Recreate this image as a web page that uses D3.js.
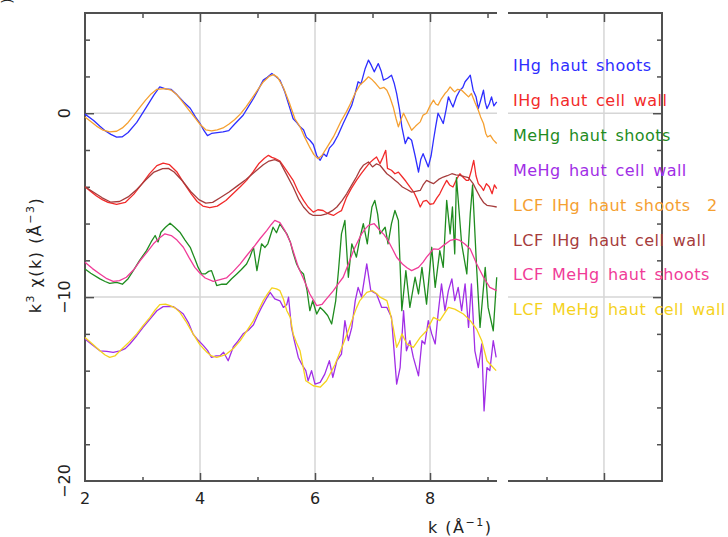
<!DOCTYPE html>
<html>
<head>
<meta charset="utf-8">
<script src="https://cdn.jsdelivr.net/npm/d3@7"></script>
<style>
body { margin: 0; background: #fff; }
svg { display: block; }
text { font-family: "DejaVu Sans", sans-serif; }
</style>
</head>
<body>
<svg width="728" height="537"></svg>
<script>
// k (A^-1), k^3 chi(k), one array per spectrum
var ihgShoots = [[2.00,-0.05],[2.15,-0.4],[2.26,-0.71],[2.35,-0.95],[2.45,-1.15],[2.55,-1.3],[2.65,-1.28],[2.75,-1.05],[2.9,-0.5],[3.07,0.34],[3.2,1.0],[3.3,1.43],[3.4,1.32],[3.5,1.29],[3.6,1.0],[3.72,0.6],[3.83,0.27],[3.92,-0.2],[4.0,-0.55],[4.07,-0.95],[4.13,-1.22],[4.2,-1.1],[4.3,-1.05],[4.4,-1.02],[4.5,-0.95],[4.6,-0.6],[4.75,-0.11],[4.85,0.4],[4.93,0.8],[5.0,1.2],[5.1,1.8],[5.17,1.95],[5.25,2.16],[5.32,2.0],[5.39,1.8],[5.47,1.2],[5.55,0.4],[5.62,-0.3],[5.68,-0.5],[5.74,-0.74],[5.8,-0.9],[5.85,-1.3],[5.91,-1.47],[5.97,-1.7],[6.03,-2.3],[6.09,-2.56],[6.15,-2.2],[6.2,-2.35],[6.25,-1.9],[6.32,-1.65],[6.4,-1.2],[6.49,-0.56],[6.56,-0.1],[6.64,0.44],[6.7,1.1],[6.75,1.71],[6.8,1.6],[6.87,2.4],[6.93,2.89],[6.98,2.6],[7.03,2.25],[7.1,2.7],[7.15,2.3],[7.19,1.8],[7.26,1.9],[7.33,2.07],[7.38,1.6],[7.42,1.07],[7.47,0.2],[7.51,-0.74],[7.57,-1.65],[7.62,-1.3],[7.68,-1.47],[7.74,-2.3],[7.8,-3.2],[7.84,-2.5],[7.88,-2.2],[7.93,-2.6],[7.97,-2.92],[8.02,-2.3],[8.06,-1.47],[8.1,-0.7],[8.14,0.0],[8.19,-0.3],[8.23,-0.56],[8.28,0.2],[8.32,0.89],[8.36,0.6],[8.4,0.34],[8.46,0.9],[8.52,1.25],[8.57,1.4],[8.61,1.71],[8.66,1.9],[8.7,2.07],[8.75,1.25],[8.8,0.9],[8.84,0.25],[8.89,0.8],[8.93,1.25],[8.96,0.6],[8.99,0.25],[9.03,0.5],[9.07,0.89],[9.11,0.4],[9.16,0.62]];

var ihgCellWall = [[2.0,-4.0],[2.1,-4.25],[2.2,-4.5],[2.3,-4.7],[2.4,-4.85],[2.55,-4.96],[2.7,-4.85],[2.85,-4.4],[3.0,-3.8],[3.12,-3.3],[3.25,-2.85],[3.36,-2.71],[3.47,-2.8],[3.6,-3.2],[3.72,-3.8],[3.85,-4.4],[3.95,-4.8],[4.05,-5.05],[4.17,-5.14],[4.3,-5.05],[4.45,-4.75],[4.6,-4.3],[4.7,-4.0],[4.81,-3.65],[4.92,-3.2],[5.02,-2.75],[5.12,-2.45],[5.19,-2.29],[5.25,-2.4],[5.3,-2.45],[5.39,-2.6],[5.5,-3.1],[5.62,-3.65],[5.7,-4.2],[5.8,-4.74],[5.88,-5.1],[5.97,-5.38],[6.05,-5.25],[6.14,-5.29],[6.22,-5.45],[6.32,-5.56],[6.4,-5.4],[6.46,-5.3],[6.55,-4.56],[6.63,-4.1],[6.72,-3.65],[6.8,-3.3],[6.87,-3.01],[6.95,-2.7],[7.02,-2.5],[7.07,-2.38],[7.13,-2.74],[7.18,-2.4],[7.23,-2.02],[7.26,-3.0],[7.33,-3.1],[7.39,-3.29],[7.45,-3.2],[7.52,-3.47],[7.58,-3.7],[7.65,-4.01],[7.72,-4.3],[7.78,-4.7],[7.83,-5.1],[7.88,-4.8],[7.94,-4.74],[8.0,-4.95],[8.06,-4.92],[8.12,-4.6],[8.17,-4.38],[8.23,-4.0],[8.29,-3.65],[8.34,-3.9],[8.4,-4.01],[8.46,-3.6],[8.52,-3.29],[8.58,-3.5],[8.63,-3.65],[8.67,-3.65],[8.72,-3.1],[8.76,-2.56],[8.8,-3.4],[8.84,-3.83],[8.89,-4.0],[8.93,-4.2],[8.98,-3.83],[9.03,-4.0],[9.08,-4.38],[9.12,-3.9],[9.16,-4.1]];

var mehgShoots = [[2.0,-8.47],[2.1,-8.7],[2.26,-9.01],[2.35,-9.15],[2.43,-9.25],[2.55,-9.2],[2.65,-9.3],[2.75,-9.0],[2.84,-8.56],[2.95,-8.0],[3.07,-7.47],[3.15,-7.0],[3.22,-6.65],[3.27,-7.0],[3.32,-6.47],[3.4,-6.2],[3.48,-5.98],[3.56,-6.2],[3.65,-6.47],[3.74,-6.9],[3.83,-7.29],[3.91,-7.92],[3.97,-8.4],[4.03,-8.74],[4.09,-8.74],[4.15,-8.6],[4.2,-8.56],[4.25,-9.0],[4.29,-9.37],[4.38,-9.3],[4.46,-9.3],[4.55,-9.0],[4.64,-8.74],[4.72,-8.5],[4.81,-8.2],[4.87,-7.8],[4.93,-7.29],[4.99,-8.56],[5.07,-7.1],[5.13,-7.3],[5.18,-7.1],[5.27,-6.2],[5.33,-6.5],[5.39,-6.02],[5.45,-6.3],[5.51,-6.56],[5.57,-7.0],[5.62,-7.6],[5.68,-8.2],[5.74,-8.56],[5.8,-8.74],[5.86,-9.6],[5.91,-10.74],[5.96,-10.2],[6.03,-10.92],[6.09,-10.56],[6.15,-10.74],[6.22,-11.0],[6.29,-11.46],[6.36,-10.2],[6.41,-8.5],[6.46,-6.56],[6.52,-5.83],[6.58,-8.92],[6.64,-7.1],[6.72,-7.83],[6.78,-6.8],[6.84,-6.01],[6.91,-7.1],[6.95,-6.0],[6.99,-5.1],[7.04,-4.74],[7.09,-5.5],[7.13,-6.56],[7.22,-6.2],[7.27,-7.1],[7.33,-6.0],[7.39,-5.29],[7.45,-5.83],[7.51,-10.74],[7.58,-8.56],[7.65,-10.56],[7.74,-8.92],[7.8,-9.83],[7.86,-8.38],[7.94,-10.38],[8.03,-7.29],[8.09,-9.47],[8.17,-7.47],[8.23,-8.38],[8.29,-4.74],[8.35,-6.56],[8.39,-5.1],[8.43,-7.65],[8.46,-3.5],[8.55,-7.1],[8.64,-8.74],[8.7,-5.47],[8.74,-3.9],[8.81,-8.38],[8.87,-11.65],[8.96,-8.38],[9.01,-10.56],[9.1,-11.83],[9.16,-8.92]];

var mehgCellWall = [[2.0,-12.28],[2.13,-12.6],[2.26,-12.92],[2.38,-12.95],[2.49,-13.01],[2.61,-12.92],[2.7,-12.8],[2.78,-12.55],[2.9,-12.1],[3.01,-11.65],[3.13,-11.2],[3.25,-10.74],[3.36,-10.52],[3.45,-10.5],[3.54,-10.52],[3.62,-10.7],[3.71,-10.92],[3.8,-11.4],[3.88,-12.01],[3.97,-12.35],[4.06,-12.64],[4.13,-12.9],[4.2,-13.28],[4.28,-13.2],[4.35,-13.19],[4.41,-13.0],[4.49,-13.46],[4.58,-12.7],[4.66,-12.4],[4.75,-12.0],[4.84,-11.8],[4.93,-11.5],[5.0,-11.0],[5.07,-10.56],[5.15,-10.1],[5.22,-9.74],[5.3,-10.1],[5.39,-10.2],[5.45,-10.56],[5.51,-10.4],[5.54,-10.0],[5.59,-11.65],[5.64,-12.37],[5.71,-13.28],[5.77,-13.65],[5.84,-14.0],[5.88,-14.55],[5.94,-14.0],[6.0,-14.73],[6.09,-14.64],[6.17,-14.19],[6.25,-13.46],[6.31,-14.37],[6.38,-13.46],[6.46,-13.1],[6.52,-11.28],[6.58,-12.37],[6.64,-11.65],[6.7,-10.19],[6.75,-9.47],[6.81,-10.0],[6.9,-8.19],[6.97,-9.65],[7.07,-9.83],[7.16,-10.56],[7.25,-10.56],[7.33,-11.1],[7.42,-14.73],[7.48,-13.83],[7.54,-10.74],[7.59,-12.92],[7.65,-12.37],[7.71,-13.28],[7.8,-14.28],[7.86,-12.37],[7.91,-12.55],[7.97,-11.28],[8.03,-12.0],[8.09,-12.55],[8.14,-10.92],[8.2,-9.28],[8.26,-10.74],[8.32,-9.65],[8.38,-9.01],[8.43,-10.19],[8.49,-9.47],[8.55,-10.74],[8.61,-9.28],[8.67,-11.65],[8.72,-9.28],[8.78,-12.92],[8.84,-13.83],[8.9,-12.55],[8.94,-16.19],[8.99,-13.83],[9.04,-14.0],[9.1,-12.37],[9.15,-13.28]];

var lcfIhgShoots = [[2.0,-0.2],[2.1,-0.45],[2.2,-0.7],[2.3,-0.9],[2.43,-1.02],[2.55,-0.98],[2.65,-0.8],[2.75,-0.5],[2.85,-0.1],[2.95,0.3],[3.05,0.7],[3.15,1.05],[3.25,1.3],[3.39,1.34],[3.5,1.25],[3.6,1.0],[3.7,0.6],[3.8,0.2],[3.9,-0.2],[4.0,-0.6],[4.1,-0.9],[4.2,-0.96],[4.3,-0.9],[4.4,-0.8],[4.5,-0.6],[4.6,-0.35],[4.7,-0.05],[4.8,0.35],[4.9,0.8],[5.0,1.25],[5.1,1.7],[5.2,2.0],[5.28,2.1],[5.35,1.95],[5.45,1.4],[5.55,0.6],[5.65,-0.3],[5.74,-0.74],[5.82,-1.3],[5.9,-1.8],[5.98,-2.25],[6.05,-2.47],[6.12,-2.3],[6.2,-1.9],[6.32,-1.29],[6.45,-0.45],[6.55,0.1],[6.62,0.54],[6.7,1.1],[6.78,1.53],[6.86,1.75],[6.93,1.98],[7.0,1.8],[7.06,1.6],[7.13,1.34],[7.2,1.4],[7.25,1.25],[7.3,0.9],[7.36,0.34],[7.41,-0.3],[7.45,-0.74],[7.5,-0.3],[7.54,0.0],[7.6,-0.4],[7.68,-0.93],[7.75,-0.7],[7.83,-0.47],[7.88,-0.1],[7.94,0.0],[8.0,0.4],[8.06,0.71],[8.1,0.5],[8.14,0.44],[8.2,0.8],[8.26,1.07],[8.3,1.2],[8.35,1.43],[8.4,1.25],[8.43,1.16],[8.48,1.3],[8.55,1.25],[8.6,1.1],[8.67,0.89],[8.72,1.07],[8.78,0.6],[8.84,0.16],[8.88,-0.2],[8.93,-0.56],[8.97,-1.1],[9.0,-1.29],[9.05,-1.2],[9.1,-1.45],[9.16,-1.65]];

var lcfIhgCellWall = [[2.0,-4.0],[2.15,-4.3],[2.3,-4.6],[2.45,-4.84],[2.6,-4.8],[2.75,-4.55],[2.9,-4.15],[3.05,-3.65],[3.2,-3.2],[3.35,-3.01],[3.45,-3.0],[3.55,-3.2],[3.7,-3.7],[3.85,-4.3],[3.98,-4.7],[4.1,-4.89],[4.22,-4.85],[4.35,-4.6],[4.5,-4.3],[4.65,-3.95],[4.8,-3.6],[4.95,-3.2],[5.1,-2.8],[5.2,-2.6],[5.3,-2.52],[5.39,-2.65],[5.5,-3.3],[5.62,-4.01],[5.72,-4.7],[5.8,-5.1],[5.9,-5.45],[5.97,-5.56],[6.1,-5.55],[6.2,-5.47],[6.3,-5.3],[6.38,-5.1],[6.47,-4.75],[6.55,-4.38],[6.64,-3.9],[6.72,-3.47],[6.78,-3.1],[6.84,-2.83],[6.93,-2.65],[7.0,-2.92],[7.07,-2.75],[7.13,-2.83],[7.2,-3.1],[7.25,-3.29],[7.32,-3.45],[7.39,-3.65],[7.45,-3.8],[7.52,-4.01],[7.6,-4.15],[7.68,-4.29],[7.75,-4.25],[7.83,-4.2],[7.88,-3.9],[7.94,-3.65],[8.0,-3.75],[8.06,-3.83],[8.15,-3.6],[8.23,-3.47],[8.3,-3.4],[8.38,-3.29],[8.45,-3.35],[8.52,-3.38],[8.6,-3.45],[8.67,-3.5],[8.75,-3.83],[8.81,-4.2],[8.87,-4.56],[8.93,-4.85],[8.99,-5.01],[9.08,-5.05],[9.16,-5.1]];

var lcfMehgShoots = [[2.0,-8.1],[2.13,-8.45],[2.26,-8.74],[2.38,-9.0],[2.49,-9.14],[2.6,-9.1],[2.72,-8.92],[2.85,-8.5],[2.96,-8.01],[3.08,-7.55],[3.19,-7.1],[3.29,-6.8],[3.39,-6.56],[3.5,-6.65],[3.6,-6.9],[3.71,-7.29],[3.81,-7.85],[3.91,-8.38],[4.0,-8.7],[4.09,-8.96],[4.23,-9.14],[4.35,-9.05],[4.46,-8.96],[4.58,-8.6],[4.7,-8.19],[4.81,-7.75],[4.93,-7.29],[5.05,-6.8],[5.16,-6.38],[5.24,-6.05],[5.3,-5.83],[5.39,-5.95],[5.48,-6.4],[5.57,-7.0],[5.64,-7.7],[5.71,-8.38],[5.8,-9.0],[5.91,-9.83],[6.03,-10.46],[6.12,-10.4],[6.2,-10.1],[6.32,-9.65],[6.4,-9.3],[6.49,-8.92],[6.58,-8.2],[6.67,-7.47],[6.74,-7.0],[6.81,-6.56],[6.87,-6.3],[6.93,-6.1],[7.03,-6.01],[7.13,-6.38],[7.2,-6.6],[7.27,-6.92],[7.35,-7.4],[7.42,-7.83],[7.52,-8.2],[7.6,-8.4],[7.68,-8.56],[7.8,-8.38],[7.88,-8.1],[7.94,-7.83],[8.06,-7.38],[8.15,-7.4],[8.23,-7.2],[8.35,-6.92],[8.45,-6.85],[8.52,-6.92],[8.6,-7.1],[8.7,-7.38],[8.81,-8.19],[8.93,-8.92],[9.04,-9.47],[9.16,-9.65]];

var lcfMehgCellWall = [[2.0,-12.2],[2.13,-12.55],[2.26,-12.92],[2.35,-13.15],[2.43,-13.28],[2.52,-13.2],[2.61,-12.92],[2.75,-12.5],[2.9,-12.0],[3.01,-11.55],[3.13,-11.1],[3.22,-10.7],[3.3,-10.41],[3.4,-10.38],[3.48,-10.46],[3.57,-10.6],[3.65,-10.83],[3.75,-11.3],[3.88,-12.0],[4.0,-12.6],[4.12,-13.0],[4.2,-13.2],[4.29,-13.28],[4.38,-13.2],[4.46,-13.1],[4.58,-12.8],[4.7,-12.37],[4.81,-11.85],[4.93,-11.28],[5.02,-10.7],[5.1,-10.19],[5.18,-9.8],[5.25,-9.5],[5.33,-9.55],[5.39,-9.65],[5.45,-10.1],[5.51,-10.74],[5.57,-11.1],[5.62,-12.0],[5.68,-12.5],[5.74,-12.92],[5.84,-14.55],[5.97,-14.82],[6.09,-14.9],[6.2,-14.55],[6.35,-13.65],[6.49,-12.55],[6.57,-11.9],[6.64,-11.28],[6.72,-10.6],[6.78,-10.19],[6.9,-9.74],[7.0,-9.65],[7.07,-9.8],[7.13,-10.0],[7.25,-10.19],[7.31,-10.9],[7.36,-11.65],[7.42,-12.73],[7.47,-12.4],[7.51,-12.0],[7.6,-12.55],[7.71,-12.73],[7.83,-12.19],[7.94,-11.83],[8.06,-11.1],[8.17,-11.28],[8.32,-10.56],[8.43,-10.65],[8.58,-10.92],[8.7,-11.28],[8.81,-11.74],[8.9,-12.37],[8.99,-13.46],[9.07,-13.73],[9.15,-14.0]];

var seriesNames = ['IHg haut shoots', 'IHg haut cell wall', 'MeHg haut shoots', 'MeHg haut cell wall',
  'LCF IHg haut shoots  2', 'LCF IHg haut cell wall', 'LCF MeHg haut shoots', 'LCF MeHg haut cell wall'];
var seriesData = [ihgShoots, ihgCellWall, mehgShoots, mehgCellWall, lcfIhgShoots, lcfIhgCellWall, lcfMehgShoots, lcfMehgCellWall];
var seriesColors = ['#2e2eff', '#f22a2a', '#1f8c1f', '#a12ee6', '#f5a031', '#a63c3c', '#f03c98', '#f5d21e'];

var xMinorTicks = [3, 5, 7, 9];
var xMajorTicks = [4, 6, 8];
var xTickLabels = [2, 4, 6, 8];
var xRightMinor = [11];
var xRightMajor = [12];
var yMinorTicks = [4, 2, -2, -4, -6, -8, -12, -14, -16, -18];
var yMajorTicks = [0, -10];
var yTickLabels = [0, -10, -20];

(function() {
  var svg = d3.select('svg');
  var plotLeft = 85, plotRight = 662, plotTop = 13, plotBottom = 481;
  var panelEnd = 497, panelStart = 508;
  var axisColor = '#505050';
  var gridColor = '#d6d6d6';

  var x = d3.scaleLinear().domain([2, 9.165]).range([plotLeft, panelEnd]);
  // the piece of frame to the right of the gap, behind the legend
  var xR = d3.scaleLinear().domain([10.33, 13.01]).range([panelStart, plotRight]);
  var y = d3.scaleLinear().domain([-20, 5.45]).range([plotBottom, plotTop]);

  // grid
  var grid = svg.append('g').attr('stroke', gridColor).attr('stroke-width', 1.5);
  grid.selectAll('.gx').data(xMajorTicks).enter().append('line')
    .attr('x1', function(d) { return x(d); }).attr('x2', function(d) { return x(d); })
    .attr('y1', plotTop).attr('y2', plotBottom);
  grid.selectAll('.gxr').data(xRightMajor).enter().append('line')
    .attr('x1', function(d) { return xR(d); }).attr('x2', function(d) { return xR(d); })
    .attr('y1', plotTop).attr('y2', plotBottom);
  grid.selectAll('.gy').data(yMajorTicks).enter().append('line')
    .attr('x1', plotLeft).attr('x2', panelEnd)
    .attr('y1', function(d) { return y(d); }).attr('y2', function(d) { return y(d); });
  grid.selectAll('.gyr').data(yMajorTicks).enter().append('line')
    .attr('x1', panelStart).attr('x2', plotRight)
    .attr('y1', function(d) { return y(d); }).attr('y2', function(d) { return y(d); });

  // ticks, all pointing into the frame
  function ticks(axis, values, len, transform) {
    var g = svg.append('g').attr('transform', transform)
      .call(axis.tickValues(values).tickSize(-len).tickFormat(''));
    g.select('.domain').remove();
    g.selectAll('line').attr('stroke', axisColor).attr('stroke-width', 1.5);
  }
  ticks(d3.axisBottom(x), xMinorTicks, 4, 'translate(0,' + plotBottom + ')');
  ticks(d3.axisBottom(x), xMajorTicks, 8, 'translate(0,' + plotBottom + ')');
  ticks(d3.axisTop(x), xMinorTicks, 5, 'translate(0,' + plotTop + ')');
  ticks(d3.axisTop(x), xMajorTicks, 9, 'translate(0,' + plotTop + ')');
  ticks(d3.axisBottom(xR), xRightMinor, 4, 'translate(0,' + plotBottom + ')');
  ticks(d3.axisBottom(xR), xRightMajor, 8, 'translate(0,' + plotBottom + ')');
  ticks(d3.axisTop(xR), xRightMinor, 5, 'translate(0,' + plotTop + ')');
  ticks(d3.axisTop(xR), xRightMajor, 9, 'translate(0,' + plotTop + ')');
  ticks(d3.axisLeft(y), yMinorTicks, 5, 'translate(' + plotLeft + ',0)');
  ticks(d3.axisLeft(y), yMajorTicks, 9, 'translate(' + plotLeft + ',0)');
  ticks(d3.axisRight(y), yMinorTicks, 5, 'translate(' + plotRight + ',0)');
  ticks(d3.axisRight(y), yMajorTicks, 9, 'translate(' + plotRight + ',0)');

  // frame, broken between the plot and the legend piece
  var frame = svg.append('g').attr('stroke', axisColor).attr('stroke-width', 2).attr('fill', 'none');
  frame.append('path').attr('d', 'M' + panelEnd + ',' + plotTop + 'H' + plotLeft + 'V' + plotBottom + 'H' + panelEnd);
  frame.append('path').attr('d', 'M' + panelStart + ',' + plotTop + 'H' + plotRight + 'V' + plotBottom + 'H' + panelStart);

  // spectra
  var line = d3.line()
    .x(function(d) { return x(d[0]); })
    .y(function(d) { return y(d[1]); });
  svg.append('g').selectAll('path').data(seriesData).enter().append('path')
    .attr('d', line)
    .attr('fill', 'none')
    .attr('stroke', function(d, i) { return seriesColors[i]; })
    .attr('stroke-width', 1.3)
    .attr('stroke-linejoin', 'round');

  // tick labels
  svg.append('g').selectAll('text').data(xTickLabels).enter().append('text')
    .attr('x', function(d) { return x(d); }).attr('y', 504)
    .attr('text-anchor', 'middle').attr('font-size', 16).attr('fill', '#222')
    .text(function(d) { return d; });
  svg.append('g').selectAll('text').data(yTickLabels).enter().append('text')
    .attr('transform', function(d) { return 'translate(70,' + y(d) + ') rotate(-90)'; })
    .attr('text-anchor', 'middle').attr('font-size', 16).attr('fill', '#222')
    .text(function(d) { return d < 0 ? '\u2212' + Math.abs(d) : d; });

  // axis titles
  var xt = svg.append('text').attr('x', 428).attr('y', 533).attr('font-size', 16)
    .attr('fill', '#222').attr('letter-spacing', 1.5);
  xt.append('tspan').text('k (\u00c5');
  xt.append('tspan').attr('font-size', 11).attr('dy', -7).text('\u22121');
  xt.append('tspan').attr('dy', 7).text(')');

  var yt = svg.append('text').attr('transform', 'translate(41,255) rotate(-90)')
    .attr('text-anchor', 'middle').attr('font-size', 16).attr('fill', '#222').attr('letter-spacing', 1.5);
  yt.append('tspan').text('k');
  yt.append('tspan').attr('font-size', 11).attr('dy', -7).text('3');
  yt.append('tspan').attr('dy', 7).text(' \u03c7(k) (\u00c5');
  yt.append('tspan').attr('font-size', 11).attr('dy', -7).text('\u22123');
  yt.append('tspan').attr('dy', 7).text(')');

  // stray glyph at the top-left corner of the original figure
  svg.append('text').attr('transform', 'translate(12,1) rotate(-90)')
    .attr('font-size', 14).attr('fill', '#222').attr('text-anchor', 'middle').text(')');

  // legend
  svg.append('g').selectAll('text').data(seriesNames).enter().append('text')
    .attr('x', 513)
    .attr('y', function(d, i) { return 71 + i * 34.9; })
    .attr('font-size', 16)
    .attr('letter-spacing', 0.45)
    .attr('word-spacing', 2.8)
    .style('white-space', 'pre')
    .attr('fill', function(d, i) { return seriesColors[i]; })
    .text(function(d) { return d; });
})();
</script>
</body>
</html>
